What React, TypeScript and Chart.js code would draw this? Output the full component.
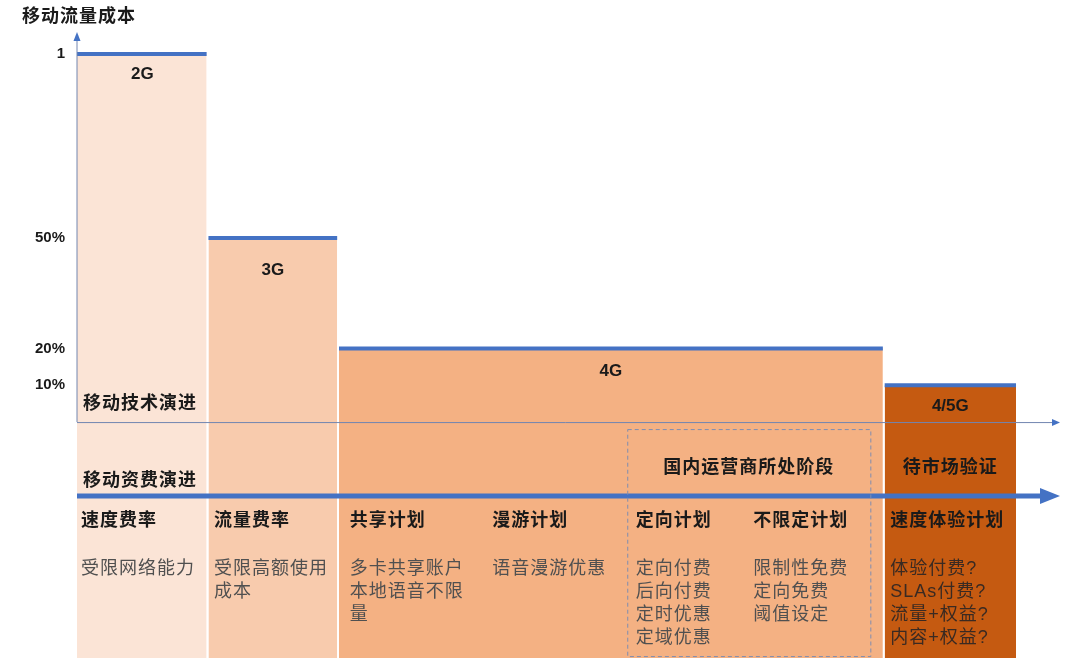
import { useEffect, useRef } from "react";
import { Chart, registerables } from "chart.js";

Chart.register(...registerables);

// stages of mobile technology and relative traffic cost
const stages = ["2G", "3G", "4G", "4/5G"];
const stageCost = [1, 0.5, 0.2, 0.1];
const stageStart = [0, 1, 2, 6.18];
const stageEnd = [1, 2, 6.18, 7.2];
const yTicks = [1, 0.5, 0.2, 0.1];

// tariff plans under each stage
const planNames = ["速度费率", "流量费率", "共享计划", "漫游计划", "定向计划", "不限定计划", "速度体验计划"];
const planDetails = [
	["受限网络能力"],
	["受限高额使用", "成本"],
	["多卡共享账户", "本地语音不限", "量"],
	["语音漫游优惠"],
	["定向付费", "后向付费", "定时优惠", "定域优惠"],
	["限制性免费", "定向免费", "阈值设定"],
	["体验付费?", "SLAs付费?", "流量+权益?", "内容+权益?"],
];

const fills = ["#FBE4D6", "#F8CBAD", "#F4B183", "#C55A11"];
const blue = "#4472C4";
const thin = "#7286B0";
const yMin = -0.641;
const gap = 0.007;
const planPos = [0.03, 1.05, 2.09, 3.18, 4.28, 5.18, 6.23];
const labelDy = [20, 32, 23, 21];
const FONT = '"Liberation Sans", "Noto Sans CJK SC", sans-serif';

const overlay = {
	id: "overlay",
	afterDatasetsDraw(chart: Chart) {
		const { ctx } = chart;
		const x = chart.scales.x;
		const y = chart.scales.y;
		const left = x.getPixelForValue(0);
		const y0 = y.getPixelForValue(0);
		const right = chart.chartArea.right;

		ctx.save();
		// thin axes with arrows
		ctx.strokeStyle = thin;
		ctx.fillStyle = thin;
		ctx.lineWidth = 1;
		ctx.beginPath();
		ctx.moveTo(left, y0);
		ctx.lineTo(left, y.getPixelForValue(1) - 16);
		ctx.moveTo(left, y0 + 0.5);
		ctx.lineTo(right - 6, y0 + 0.5);
		ctx.stroke();
		ctx.fillStyle = blue;
		ctx.beginPath();
		ctx.moveTo(left, y.getPixelForValue(1) - 22);
		ctx.lineTo(left - 3.5, y.getPixelForValue(1) - 13);
		ctx.lineTo(left + 3.5, y.getPixelForValue(1) - 13);
		ctx.fill();
		ctx.beginPath();
		ctx.moveTo(right, y0 + 0.5);
		ctx.lineTo(right - 8, y0 - 3);
		ctx.lineTo(right - 8, y0 + 4);
		ctx.fill();

		// thick tariff arrow
		const ya = y0 + 74;
		ctx.strokeStyle = blue;
		ctx.lineWidth = 5;
		ctx.beginPath();
		ctx.moveTo(left, ya);
		ctx.lineTo(right - 16, ya);
		ctx.stroke();
		ctx.beginPath();
		ctx.moveTo(right, ya);
		ctx.lineTo(right - 20, ya - 8);
		ctx.lineTo(right - 20, ya + 8);
		ctx.fill();

		// dashed box around current stage
		const bx0 = x.getPixelForValue(4.215);
		const bx1 = x.getPixelForValue(6.077);
		ctx.strokeStyle = "#7F8DB0";
		ctx.lineWidth = 1;
		ctx.setLineDash([4, 3]);
		ctx.strokeRect(bx0 + 0.5, y0 + 7.5, bx1 - bx0, 227);
		ctx.setLineDash([]);

		const text = (s: string, px: number, py: number, size: number, bold: boolean, color: string, align: CanvasTextAlign = "left", spacing = "1px") => {
			ctx.font = `${bold ? "bold " : ""}${size}px ${FONT}`;
			ctx.fillStyle = color;
			ctx.textAlign = align;
			ctx.textBaseline = "middle";
			(ctx as any).letterSpacing = spacing;
			ctx.fillText(s, px, py);
		};

		// stage labels
		stages.forEach((s, i) => {
			const cx = x.getPixelForValue((stageStart[i] + stageEnd[i]) / 2);
			text(s, cx, y.getPixelForValue(stageCost[i]) + labelDy[i], 17, true, "#1A1A1A", "center", "0px");
		});

		text("移动流量成本", 22, 17, 18, true, "#1A1A1A");
		text("移动技术演进", left + 6, y0 - 18, 18, true, "#1A1A1A");
		text("移动资费演进", left + 6, y0 + 59, 18, true, "#1A1A1A");
		text("国内运营商所处阶段", (bx0 + bx1) / 2, y0 + 46, 18, true, "#1A1A1A", "center");
		text("待市场验证", x.getPixelForValue((stageStart[3] + stageEnd[3]) / 2), y0 + 46, 18, true, "#1A1A1A", "center");

		planNames.forEach((name, i) => {
			const px = x.getPixelForValue(planPos[i]);
			text(name, px, y0 + 99, 18, true, "#1A1A1A");
			planDetails[i].forEach((line, j) => {
				text(line, px, y0 + 147 + j * 23, 18, false, i === 6 ? "#3A2A22" : "#505050");
			});
		});
		ctx.restore();
	},
};

const App = () => {
	const chartRef = useRef<HTMLCanvasElement | null>(null);

	useEffect(() => {
		document.body.style.margin = "0";
		if (!chartRef.current) return;
		const ctx = chartRef.current.getContext("2d");
		if (!ctx) return;

		const datasets = stages.map((s, i) => ({
			label: s,
			data: [
				{ x: stageStart[i] + (i > 0 ? gap : 0), y: stageCost[i] },
				{ x: stageEnd[i] - gap, y: stageCost[i] },
			],
			borderColor: blue,
			borderWidth: 4,
			borderCapStyle: "butt" as const,
			backgroundColor: fills[i],
			fill: { value: yMin },
			pointRadius: 0,
			clip: false as const,
		}));

		const myChart = new Chart(ctx, {
			type: "line",
			data: { datasets },
			options: {
				animation: false,
				responsive: true,
				maintainAspectRatio: false,
				layout: { padding: { left: 0, right: 20, top: 54, bottom: 3 } },
				plugins: {
					legend: { display: false },
					tooltip: { enabled: false },
				},
				scales: {
					x: { type: "linear", min: 0, max: 7.53, display: false },
					y: {
						type: "linear",
						min: yMin,
						max: 1,
						afterFit: (s: any) => {
							s.width = 77;
							s.paddingTop = 0;
							s.paddingBottom = 0;
						},
						afterBuildTicks: (axis: any) => {
							axis.ticks = yTicks.map((v) => ({ value: v }));
						},
						ticks: {
							padding: 4,
							color: "#1A1A1A",
							font: { family: FONT, size: 15, weight: "bold" },
							callback: (v: any) => (v === 1 ? "1" : `${Math.round(v * 100)}%`),
						},
						grid: { display: false },
						border: { display: false },
					},
				},
			},
			plugins: [overlay],
		});

		return () => {
			myChart.destroy();
		};
	}, []);

	return (
		<div style={{ position: "relative", width: 1080, height: 661 }}>
			<canvas ref={chartRef} />
		</div>
	);
};

export default App;
